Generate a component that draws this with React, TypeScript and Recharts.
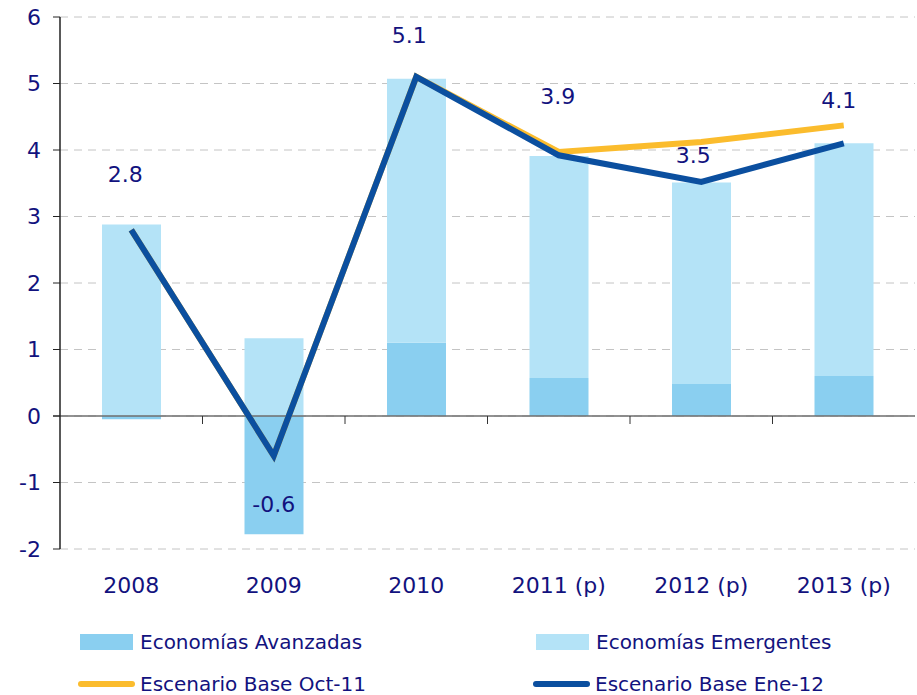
import React from 'react';
import {
  ComposedChart,
  Bar,
  Line,
  XAxis,
  YAxis,
  CartesianGrid,
  ReferenceLine,
  Legend,
  LabelList,
} from 'recharts';

const years = ['2008', '2009', '2010', '2011 (p)', '2012 (p)', '2013 (p)'];
const avanzadas = [-0.05, -1.78, 1.1, 0.57, 0.48, 0.6];
const emergentes = [2.88, 1.17, 3.97, 3.34, 3.03, 3.5];
const octubre11 = [2.8, -0.6, 5.1, 3.97, 4.12, 4.37];
const enero12 = [2.8, -0.6, 5.1, 3.92, 3.52, 4.1];
const labels = ['2.8', '-0.6', '5.1', '3.9', '3.5', '4.1'];
const yTicks = [-2, -1, 0, 1, 2, 3, 4, 5, 6];

const data = years.map((year, i) => ({
  year,
  avanzadas: avanzadas[i],
  emergentes: emergentes[i],
  oct11: octubre11[i],
  ene12: enero12[i],
  label: labels[i],
}));

const NAVY = '#12127e';
const FONT = '"DejaVu Sans", sans-serif';

// pixel offsets of the value labels from the Ene-12 points
const labelDx = [-6, 0, -7, -1, -8, -5];
const labelDy = [-55, 49, -41, -59, -26, -43];

const ValueLabel = (props: any) => {
  const { x, y, index, value } = props;
  return (
    <text
      x={x + labelDx[index]}
      y={y + labelDy[index]}
      textAnchor="middle"
      dominantBaseline="central"
      fill={NAVY}
      fontSize={22}
      fontFamily={FONT}
    >
      {value}
    </text>
  );
};

const ZeroLine = (props: any) => {
  const { x1, x2, y1 } = props;
  const step = (x2 - x1) / years.length;
  return (
    <g>
      <line x1={x1 - 7} x2={x2} y1={y1} y2={y1} stroke="#6e6e6e" strokeWidth={1.5} />
      {years.slice(1).map((_, i) => (
        <line
          key={i}
          x1={x1 + step * (i + 1)}
          x2={x1 + step * (i + 1)}
          y1={y1}
          y2={y1 + 8}
          stroke="#333"
          strokeWidth={1}
        />
      ))}
    </g>
  );
};

const legendItems = [
  { name: 'Economías Avanzadas', color: '#8acff0', type: 'rect', left: 80, top: 634 },
  { name: 'Economías Emergentes', color: '#b4e3f7', type: 'rect', left: 536, top: 634 },
  { name: 'Escenario Base Oct-11', color: '#fbbc2d', type: 'line', left: 78, top: 676 },
  { name: 'Escenario Base Ene-12', color: '#0b4f9f', type: 'line', left: 533, top: 676 },
];

const CustomLegend = () => (
  <div style={{ position: 'relative', width: 917, height: 75 }}>
    {legendItems.map((item) => (
      <div
        key={item.name}
        style={{
          position: 'absolute',
          left: item.left,
          top: item.top - 620,
          display: 'flex',
          alignItems: 'center',
          height: 16,
        }}
      >
        {item.type === 'rect' ? (
          <div style={{ width: 53, height: 16, background: item.color }} />
        ) : (
          <div style={{ width: 57, height: 6, borderRadius: 3, background: item.color }} />
        )}
        <span
          style={{
            marginLeft: item.type === 'rect' ? 7 : 5,
            color: NAVY,
            fontSize: 20,
            lineHeight: '20px',
            fontFamily: FONT,
            whiteSpace: 'nowrap',
          }}
        >
          {item.name}
        </span>
      </div>
    ))}
  </div>
);

export default function App() {
  return (
    <div style={{ position: 'absolute', left: 0, top: 0, width: 917, height: 695, background: '#fff', overflow: 'hidden' }}>
      <ComposedChart
        width={917}
        height={695}
        data={data}
        stackOffset="sign"
        margin={{ top: 17, right: 2, left: 0, bottom: 0 }}
        barCategoryGap={0}
      >
        <CartesianGrid vertical={false} stroke="#c4c4c4" strokeDasharray="8 6" />
        <XAxis
          dataKey="year"
          axisLine={false}
          tickLine={false}
          height={71}
          tick={{ fill: NAVY, fontSize: 22, fontFamily: FONT }}
          tickMargin={22}
        />
        <YAxis
          width={60}
          domain={[-2, 6]}
          ticks={yTicks}
          interval={0}
          axisLine={{ stroke: '#222', strokeWidth: 1.5 }}
          tickLine={{ stroke: '#222' }}
          tickSize={7}
          tickMargin={12}
          tick={{ fill: NAVY, fontSize: 22, fontFamily: FONT }}
        />
        <ReferenceLine y={0} shape={ZeroLine} />
        <Bar dataKey="avanzadas" stackId="a" fill="#8acff0" barSize={59} isAnimationActive={false} />
        <Bar dataKey="emergentes" stackId="a" fill="#b4e3f7" barSize={59} isAnimationActive={false} />
        <Line
          dataKey="oct11"
          stroke="#fbbc2d"
          strokeWidth={6}
          dot={false}
          isAnimationActive={false}
        />
        <Line
          dataKey="ene12"
          stroke="#0b4f9f"
          strokeWidth={6}
          dot={false}
          isAnimationActive={false}
        >
          <LabelList dataKey="label" content={ValueLabel} />
        </Line>
        <Legend
          verticalAlign="bottom"
          content={CustomLegend}
          wrapperStyle={{ left: 0, top: 620, width: 917, height: 75 }}
        />
      </ComposedChart>
    </div>
  );
}
